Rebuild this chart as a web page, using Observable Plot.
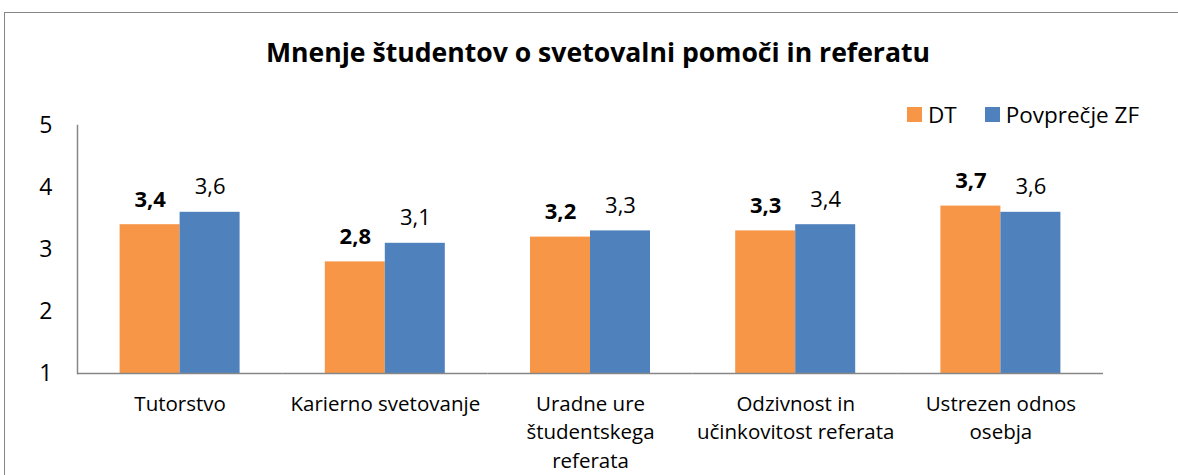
<!DOCTYPE html>
<html>
<head>
<meta charset="utf-8">
<script src="https://cdn.jsdelivr.net/npm/d3@7"></script>
<script src="https://cdn.jsdelivr.net/npm/@observablehq/plot@0.6"></script>
<style>
  body { margin: 0; background: #fff; }
  #wrap { position: relative; width: 1178px; height: 475px; overflow: hidden; font-family: "Open Sans", Lato, sans-serif; }
  #border { position: absolute; left: 4px; top: 12px; width: 1400px; height: 520px; border: 1px solid #868686; }
  #title { position: absolute; top: 34px; left: 18px; width: 1160px; text-align: center; font-weight: bold; font-size: 26.6px; line-height: normal; color: #000; }
  #legend { position: absolute; left: 907px; top: 99px; display: flex; align-items: center; font-size: 22.5px; line-height: normal; color: #000; }
  #legend .item { display: flex; align-items: center; margin-right: 28px; }
  #legend .sw { width: 15px; height: 15px; margin-right: 6px; }
  #chart { position: absolute; left: 0; top: 0; }
</style>
</head>
<body>
<div id="wrap">
  <div id="border"></div>
  <div id="chart"></div>
  <div id="title"></div>
  <div id="legend"></div>
</div>
<script>
const titleText = "Mnenje študentov o svetovalni pomoči in referatu";
const categories = ["Tutorstvo", "Karierno svetovanje", "Uradne ure študentskega referata", "Odzivnost in učinkovitost referata", "Ustrezen odnos osebja"];
const categoryLabels = ["Tutorstvo", "Karierno svetovanje", "Uradne ure\nštudentskega\nreferata", "Odzivnost in\nučinkovitost referata", "Ustrezen odnos\nosebja"];
const series = ["DT", "Povprečje ZF"];
const dtValues = [3.4, 2.8, 3.2, 3.3, 3.7];
const zfValues = [3.6, 3.1, 3.3, 3.4, 3.6];
const seriesColors = ["#F79646", "#4F81BD"];
const yTicks = [1, 2, 3, 4, 5];

const data = categories.flatMap((c, i) => [
  {category: c, series: series[0], value: dtValues[i]},
  {category: c, series: series[1], value: zfValues[i]}
]);
const fmt = v => v.toFixed(1).replace(".", ",");
const labelOf = d => categoryLabels[categories.indexOf(d)];

document.getElementById("title").textContent = titleText;
const legend = document.getElementById("legend");
series.forEach((s, i) => {
  const item = document.createElement("div");
  item.className = "item";
  const sw = document.createElement("span");
  sw.className = "sw";
  sw.style.background = seriesColors[i];
  const t = document.createElement("span");
  t.textContent = s;
  item.append(sw, t);
  legend.append(item);
});

const chart = Plot.plot({
  width: 1178,
  height: 475,
  marginLeft: 77,
  marginRight: 75,
  marginTop: 125,
  marginBottom: 102,
  style: {fontFamily: "'Open Sans', Lato, sans-serif", fontSize: "20px", color: "#000", background: "transparent", overflow: "visible"},
  fx: {domain: categories, paddingInner: 0, paddingOuter: 0, round: false, label: null, axis: null},
  x: {domain: series, paddingInner: 0, paddingOuter: 0.71, round: false, axis: null},
  y: {domain: [1, 5], axis: null},
  color: {domain: series, range: seriesColors},
  marks: [
    Plot.barY(data, {fx: "category", x: "series", y1: 1, y2: "value", fill: "series"}),
    Plot.ruleY([1], {stroke: "#868686", strokeWidth: 1.5}),
    Plot.frame({anchor: "left", fx: categories[0], stroke: "#868686", strokeWidth: 1.5}),
    Plot.axisY({ticks: yTicks, tickSize: 0, tickPadding: 25, tickFormat: d => String(d), fontSize: 23, label: null}),
    Plot.axisFx({anchor: "bottom", tickSize: 0, tickPadding: 17, tickFormat: labelOf, fontSize: 20.5, lineHeight: 1.39, label: null}),
    Plot.text(data.filter(d => d.series === series[0]), {fx: "category", x: "series", y: "value", text: d => fmt(d.value), fontWeight: "bold", fontSize: 22, dy: -18, lineAnchor: "bottom"}),
    Plot.text(data.filter(d => d.series === series[1]), {fx: "category", x: "series", y: "value", text: d => fmt(d.value), fontSize: 22, dy: -18, lineAnchor: "bottom"})
  ]
});
document.getElementById("chart").append(chart);
</script>
</body>
</html>
